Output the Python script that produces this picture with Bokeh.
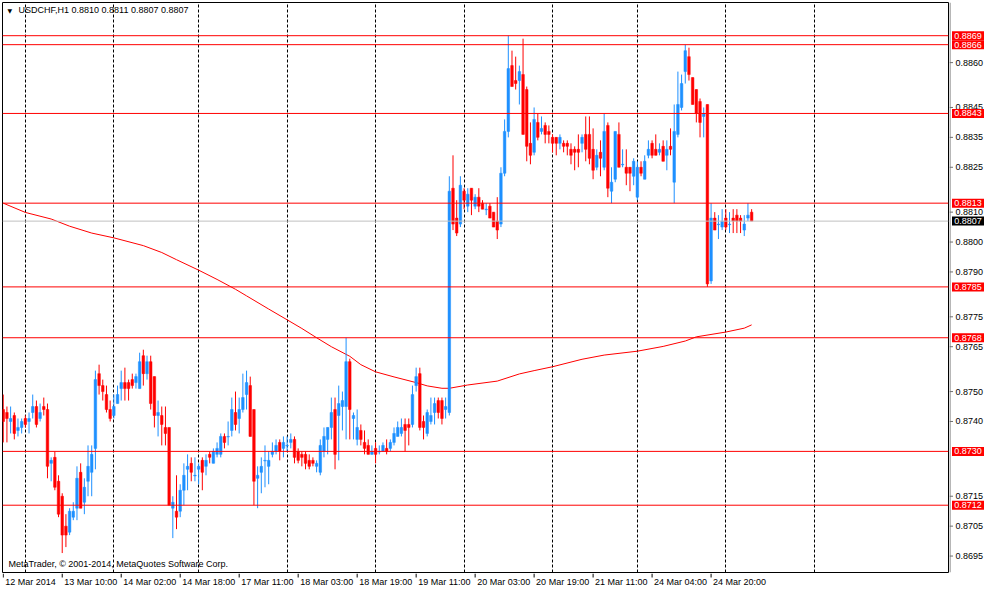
from bokeh.plotting import figure
from bokeh.layouts import row, column
from bokeh.models import Range1d, FixedTicker, Label, Span, ColumnDataSource
from bokeh.core.properties import value
from bokeh.embed import file_html
from bokeh.resources import INLINE

# ---------------- data ----------------
opens = [
    .8744, .8743, .8740, .8742, .8737, .8738, .8741, .8740, .8743, .8745,
    .8741, .8745, .8744, .8726, .8728, .8720, .8715, .8705, .8703, .8708,
    .8711, .8723, .8713, .8720, .8723, .8731, .8756, .8752, .8749, .8744,
    .8742, .8746, .8751, .8753, .8753, .8754, .8753, .8751, .8762, .8756,
    .8760, .8755, .8742, .8742, .8738, .8738, .8711, .8710, .8710, .8717,
    .8724, .8726, .8722, .8724, .8727, .8725, .8729, .8726, .8729, .8729,
    .8735, .8735, .8737, .8743, .8741, .8744, .8749, .8752, .8744, .8721,
    .8723, .8727, .8725, .8729, .8730, .8733, .8731, .8732, .8733, .8734,
    .8730, .8729, .8729, .8727, .8727, .8725, .8723, .8730, .8734, .8738,
    .8744, .8742, .8745, .8745, .8760, .8741, .8734, .8737, .8733, .8732,
    .8729, .8731, .8730, .8730, .8731, .8731, .8733, .8735, .8736, .8739,
    .8739, .8739, .8752, .8756, .8740, .8736, .8740, .8743, .8747, .8747,
    .8744, .8743, .8818, .8808, .8806, .8817, .8812, .8818, .8812, .8815,
    .8813, .8811, .8812, .8810, .8807, .8806, .8823, .8837, .8859, .8854,
    .8854, .8856, .8851, .8833, .8830, .8840, .8837, .8839, .8837, .8835,
    .8835, .8833, .8833, .8833, .8831, .8831, .8831, .8833, .8836, .8836,
    .8831, .8825, .8830, .8825, .8839, .8817, .8821, .8836, .8826, .8825,
    .8825, .8822, .8815, .8825, .8821, .8829, .8833, .8831, .8830, .8832,
    .8829, .8832, .8820, .8836, .8845, .8857, .8862, .8855, .8851, .8847,
    .8842, .8846, .8787, .8808, .8806, .8805, .8808, .8806, .8808, .8809,
    .8808, .8804, .8808, .8810,
]
highs = [
    .8749, .8745, .8745, .8743, .8741, .8741, .8742, .8743, .8749, .8747,
    .8746, .8748, .8746, .8728, .8730, .8722, .8716, .8709, .8711, .8713,
    .8725, .8726, .8721, .8732, .8732, .8757, .8759, .8754, .8752, .8747,
    .8749, .8752, .8757, .8758, .8754, .8756, .8756, .8763, .8764, .8762,
    .8762, .8755, .8747, .8745, .8745, .8738, .8715, .8722, .8719, .8726,
    .8729, .8728, .8728, .8726, .8728, .8729, .8730, .8731, .8733, .8736,
    .8736, .8740, .8748, .8750, .8748, .8756, .8757, .8755, .8744, .8725,
    .8728, .8732, .8730, .8733, .8734, .8734, .8735, .8735, .8736, .8735,
    .8731, .8730, .8730, .8729, .8728, .8727, .8734, .8738, .8738, .8748,
    .8748, .8752, .8750, .8768, .8761, .8743, .8744, .8739, .8737, .8734,
    .8732, .8733, .8732, .8733, .8734, .8734, .8738, .8740, .8741, .8741,
    .8741, .8752, .8758, .8758, .8742, .8744, .8748, .8748, .8748, .8748,
    .8748, .8822, .8829, .8814, .8822, .8818, .8818, .8818, .8816, .8818,
    .8814, .8813, .8813, .8810, .8815, .8825, .8841, .8869, .8864, .8862,
    .8859, .8868, .8852, .8840, .8845, .8843, .8842, .8840, .8839, .8836,
    .8835, .8836, .8834, .8834, .8833, .8832, .8836, .8836, .8842, .8842,
    .8838, .8831, .8834, .8843, .8840, .8825, .8837, .8840, .8831, .8831,
    .8825, .8828, .8827, .8827, .8829, .8834, .8834, .8836, .8833, .8834,
    .8834, .8838, .8846, .8857, .8856, .8866, .8865, .8855, .8851, .8848,
    .8845, .8846, .8813, .8810, .8809, .8811, .8811, .8810, .8811, .8811,
    .8809, .8809, .8813, .8811,
]
lows = [
    .8733, .8733, .8736, .8734, .8735, .8736, .8738, .8736, .8741, .8738,
    .8740, .8742, .8721, .8720, .8717, .8708, .8696, .8698, .8702, .8707,
    .8707, .8711, .8709, .8715, .8715, .8724, .8749, .8747, .8743, .8740,
    .8741, .8746, .8747, .8747, .8747, .8751, .8751, .8751, .8752, .8754,
    .8744, .8738, .8735, .8732, .8732, .8712, .8701, .8704, .8708, .8712,
    .8717, .8720, .8720, .8719, .8717, .8722, .8726, .8726, .8728, .8728,
    .8731, .8732, .8735, .8737, .8736, .8743, .8744, .8735, .8712, .8711,
    .8716, .8718, .8719, .8728, .8729, .8727, .8728, .8730, .8731, .8726,
    .8726, .8725, .8724, .8724, .8725, .8723, .8722, .8728, .8729, .8734,
    .8724, .8727, .8737, .8734, .8734, .8734, .8732, .8732, .8729, .8729,
    .8729, .8726, .8729, .8730, .8729, .8730, .8732, .8735, .8735, .8730,
    .8732, .8738, .8750, .8737, .8734, .8735, .8739, .8739, .8741, .8739,
    .8741, .8742, .8804, .8802, .8805, .8811, .8810, .8809, .8811, .8810,
    .8811, .8809, .8808, .8805, .8801, .8805, .8822, .8835, .8852, .8851,
    .8846, .8836, .8827, .8826, .8829, .8834, .8836, .8833, .8833, .8830,
    .8829, .8831, .8830, .8829, .8826, .8824, .8825, .8830, .8827, .8826,
    .8821, .8824, .8822, .8824, .8815, .8813, .8820, .8825, .8825, .8819,
    .8817, .8819, .8814, .8822, .8821, .8828, .8828, .8829, .8829, .8827,
    .8824, .8829, .8813, .8835, .8844, .8853, .8854, .8846, .8840, .8835,
    .8835, .8785, .8786, .8804, .8801, .8804, .8804, .8803, .8803, .8803,
    .8803, .8802, .8807, .8807,
]
closes = [
    .8740, .8741, .8741, .8736, .8738, .8740, .8739, .8741, .8745, .8739,
    .8743, .8744, .8725, .8727, .8718, .8709, .8702, .8702, .8710, .8710,
    .8721, .8711, .8718, .8725, .8729, .8754, .8752, .8750, .8744, .8741,
    .8745, .8749, .8753, .8751, .8751, .8752, .8755, .8760, .8756, .8760,
    .8746, .8742, .8743, .8739, .8736, .8712, .8713, .8708, .8717, .8722,
    .8725, .8723, .8722, .8725, .8723, .8727, .8728, .8730, .8731, .8735,
    .8733, .8735, .8744, .8739, .8744, .8748, .8753, .8735, .8720, .8722,
    .8725, .8727, .8727, .8730, .8732, .8730, .8733, .8732, .8734, .8728,
    .8727, .8728, .8726, .8725, .8726, .8726, .8732, .8735, .8738, .8743,
    .8729, .8746, .8747, .8760, .8744, .8742, .8738, .8734, .8731, .8729,
    .8730, .8729, .8730, .8732, .8730, .8733, .8736, .8738, .8738, .8737,
    .8738, .8749, .8755, .8738, .8738, .8743, .8742, .8746, .8743, .8741,
    .8745, .8817, .8806, .8803, .8819, .8814, .8816, .8814, .8815, .8812,
    .8811, .8811, .8808, .8805, .8804, .8823, .8837, .8858, .8852, .8853,
    .8857, .8836, .8832, .8829, .8841, .8835, .8838, .8836, .8836, .8833,
    .8833, .8835, .8832, .8832, .8829, .8830, .8830, .8835, .8831, .8828,
    .8824, .8829, .8828, .8837, .8818, .8820, .8837, .8825, .8826, .8823,
    .8823, .8827, .8825, .8823, .8827, .8831, .8829, .8829, .8831, .8827,
    .8831, .8831, .8837, .8846, .8853, .8864, .8856, .8846, .8843, .8840,
    .8843, .8786, .8808, .8804, .8806, .8807, .8805, .8806, .8807, .8807,
    .8807, .8806, .8809, .8807,
]

# moving average read at sample bars
ma_bars = [0, 6, 13, 18, 24, 30, 38, 43, 47, 53, 58, 63, 66, 72, 77, 81, 85, 89,
           94, 97, 101, 106, 112, 115, 119, 121, 126, 134, 140, 144, 149, 157,
           163, 172, 179, 185, 188, 196, 201, 203]
ma_values = [.88130, .88099, .88077, .88053, .88030, .88014, .87988, .87965,
             .87941, .87906, .87875, .87842, .87820, .87776, .87740, .87711,
             .87680, .87650, .87618, .87590, .87566, .87549, .87530, .87519,
             .87511, .87511, .87522, .87535, .87559, .87570, .87583, .87608,
             .87622, .87635, .87651, .87669, .87683, .87699, .87712, .87723]

level_lines = [0.8869, 0.8866, 0.8843, 0.8813, 0.8785, 0.8768, 0.8730, 0.8712]
current_price = 0.8807

time_tick_bars = [0, 16, 32, 48, 64, 80, 96, 112, 128, 144, 160, 176, 192]
time_tick_labels = ["12 Mar 2014", "13 Mar 10:00", "14 Mar 02:00", "14 Mar 18:00",
                    "17 Mar 11:00", "18 Mar 03:00", "18 Mar 19:00", "19 Mar 11:00",
                    "20 Mar 03:00", "20 Mar 19:00", "21 Mar 11:00", "24 Mar 04:00",
                    "24 Mar 20:00"]
day_start_bars = [6, 30, 53, 77, 101, 125, 149, 172, 196, 220]
price_ticks = [0.8860, 0.8845, 0.8835, 0.8825, 0.8810, 0.8800, 0.8790, 0.8775,
               0.8765, 0.8750, 0.8740, 0.8715, 0.8705, 0.8695]

title_text = "USDCHF,H1  0.8810 0.8811 0.8807 0.8807"
copyright_text = "MetaTrader, \u00a9 2001-2014, MetaQuotes Software Corp."

# ---------------- layout constants ----------------
X0, X1 = -0.2, 256.4
Y0, Y1 = 0.86895, 0.88801
FRAME_W, FRAME_H = 946, 570
STRIP_W, STRIP_H = 35, 16
ppu = FRAME_H / (Y1 - Y0)      # px per price unit
ppb = FRAME_W / (X1 - X0)      # px per bar

FONT = "Liberation Sans"
FS = "9px"
UP = "#1E90FF"
DOWN = "#FF0000"
AXIS_GRAY = "#707070"

xr = Range1d(X0, X1)
yr = Range1d(Y0, Y1)

# ---------------- main chart ----------------
p = figure(frame_width=FRAME_W, frame_height=FRAME_H, x_range=xr, y_range=yr,
           output_backend="svg", toolbar_location=None,
           x_axis_location=None, y_axis_location=None,
           min_border_left=2, min_border_top=2, min_border_right=1, min_border_bottom=1)
p.background_fill_color = "white"
p.border_fill_color = "white"
p.outline_line_color = "black"
p.outline_line_width = 1

p.ygrid.visible = False
p.xgrid.ticker = FixedTicker(ticks=day_start_bars)
p.xgrid.grid_line_color = "black"
p.xgrid.grid_line_dash = "3 2"
p.xgrid.grid_line_width = 1

for lv in level_lines:
    p.add_layout(Span(location=lv, dimension="width", line_color="red", line_width=1))
p.add_layout(Span(location=current_price, dimension="width", line_color="#C0C0C0", line_width=1))

p.line(ma_bars, ma_values, line_color="red", line_width=1)

n = len(opens)
bars = list(range(n))
colors, tops, bots, his, los = [], [], [], [], []
min_body = 0.6 / ppu
for o, h, l, c in zip(opens, highs, lows, closes):
    colors.append(UP if c >= o else DOWN)
    t, b = max(o, c), min(o, c)
    if t - b < min_body:
        b = t - min_body
    tops.append(t)
    bots.append(b)
    his.append(max(h, o, c))
    los.append(min(l, o, c))
src = ColumnDataSource(dict(x=bars, top=tops, bottom=bots, high=his, low=los, color=colors))
p.segment(x0="x", y0="low", x1="x", y1="high", color="color", line_width=1, source=src)
p.vbar(x="x", top="top", bottom="bottom", width=0.7, fill_color="color",
       line_color="color", line_width=0.5, source=src)

p.add_layout(Label(x=X0, y=Y1 - 4 / ppu, x_offset=5, text="\u25bc", text_font="DejaVu Sans",
                   text_font_size="6px", text_color="black", text_baseline="top"))
p.add_layout(Label(x=X0, y=Y1 - 2 / ppu, x_offset=16, text=title_text, text_font=FONT,
                   text_font_size=FS, text_color="black", text_baseline="top"))
p.add_layout(Label(x=X0, y=Y0 + 4 / ppu, x_offset=6, text=copyright_text, text_font=FONT,
                   text_font_size=FS, text_color="black", text_baseline="bottom"))

# ---------------- right price scale ----------------
r = figure(frame_width=STRIP_W, frame_height=FRAME_H, x_range=Range1d(0, STRIP_W), y_range=yr,
           output_backend="svg", toolbar_location=None,
           x_axis_location=None, y_axis_location=None,
           min_border_left=0, min_border_top=2, min_border_right=0, min_border_bottom=1)
r.outline_line_color = None
r.grid.visible = False
r.background_fill_color = "white"
r.border_fill_color = "white"
r.segment(x0=[0.5], y0=[Y0], x1=[0.5], y1=[Y1], line_color=AXIS_GRAY, line_width=1)
r.segment(x0=[0] * len(price_ticks), y0=price_ticks, x1=[3.5] * len(price_ticks), y1=price_ticks,
          line_color=AXIS_GRAY, line_width=1)
r.text(x=[6] * len(price_ticks), y=price_ticks, text=[f"{v:.4f}" for v in price_ticks],
       text_font=value(FONT), text_font_size=FS, text_color="black",
       text_align="left", text_baseline="middle")
tag_levels = level_lines + [current_price]
tag_colors = ["red"] * len(level_lines) + ["black"]
r.rect(x=[18.5] * len(tag_levels), y=tag_levels, width=32, height=9, height_units="screen",
       fill_color=tag_colors, line_color=None)
r.text(x=[18.5] * len(tag_levels), y=tag_levels, text=[f"{v:.4f}" for v in tag_levels],
       text_font=value(FONT), text_font_size=FS, text_color="white",
       text_align="center", text_baseline="middle")

# ---------------- bottom time scale ----------------
bt = figure(frame_width=FRAME_W, frame_height=STRIP_H, x_range=xr, y_range=Range1d(0, STRIP_H),
            output_backend="svg", toolbar_location=None,
            x_axis_location=None, y_axis_location=None,
            min_border_left=2, min_border_top=0, min_border_right=1, min_border_bottom=0)
bt.outline_line_color = None
bt.grid.visible = False
bt.background_fill_color = "white"
bt.border_fill_color = "white"
bt.segment(x0=time_tick_bars, y0=[STRIP_H] * len(time_tick_bars), x1=time_tick_bars,
           y1=[STRIP_H - 4] * len(time_tick_bars), line_color="black", line_width=1)
bt.text(x=[b + 2 / ppb for b in time_tick_bars], y=[STRIP_H - 3] * len(time_tick_bars),
        text=time_tick_labels, text_font=value(FONT), text_font_size=FS, text_color="black",
        text_align="left", text_baseline="top")

layout = column(row(p, r), bt)
open("out.html", "w").write(file_html(layout, INLINE))
